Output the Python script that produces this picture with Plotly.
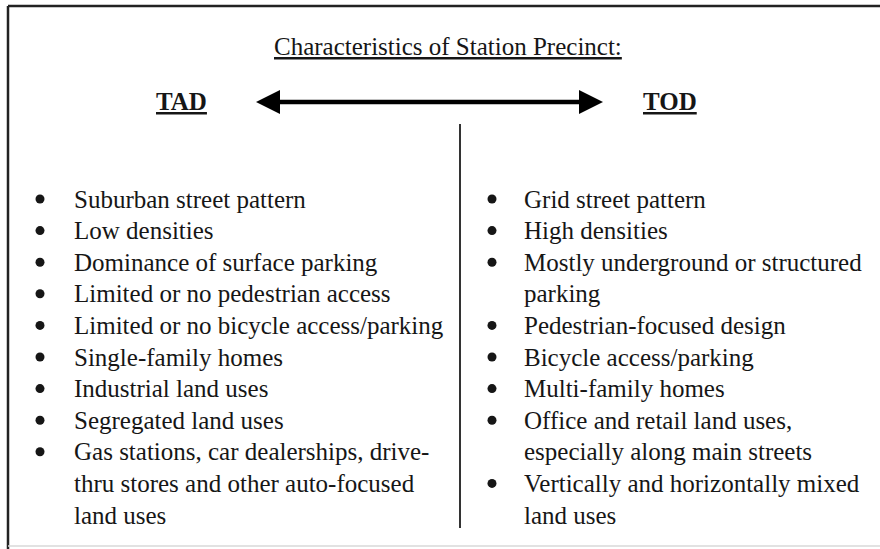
import plotly.graph_objects as go

title_text = "Characteristics of Station Precinct:"
left_heading = "TAD"
right_heading = "TOD"

tad_items = [
    ["Suburban street pattern"],
    ["Low densities"],
    ["Dominance of surface parking"],
    ["Limited or no pedestrian access"],
    ["Limited or no bicycle access/parking"],
    ["Single-family homes"],
    ["Industrial land uses"],
    ["Segregated land uses"],
    ["Gas stations, car dealerships, drive-", "thru stores and other auto-focused", "land uses"],
]

tod_items = [
    ["Grid street pattern"],
    ["High densities"],
    ["Mostly underground or structured", "parking"],
    ["Pedestrian-focused design"],
    ["Bicycle access/parking"],
    ["Multi-family homes"],
    ["Office and retail land uses,", "especially along main streets"],
    ["Vertically and horizontally mixed", "land uses"],
]

W, H = 880, 549
FONT = "Liberation Serif, Times New Roman, serif"
INK = "#161616"
LINE0 = 199
STEP = 31.6
FS = 25

fig = go.Figure()
annotations = []
shapes = []

def add_column(items, bullet_x, text_x):
    bx, by = [], []
    line = 0
    for item in items:
        bx.append(bullet_x)
        by.append(LINE0 + line * STEP)
        for txt in item:
            annotations.append(dict(
                x=text_x, y=LINE0 + line * STEP, text=txt, xref="x", yref="y",
                xanchor="left", yanchor="middle", showarrow=False,
                font=dict(family=FONT, size=FS, color=INK)))
            line += 1
    fig.add_trace(go.Scatter(x=bx, y=by, mode="markers",
                             marker=dict(size=9, color=INK, symbol="circle"),
                             hoverinfo="skip", showlegend=False))

add_column(tad_items, 40, 72)
add_column(tod_items, 492, 522)

annotations.append(dict(x=448, y=46, text="<u>" + title_text + "</u>", xref="x", yref="y",
                        xanchor="center", yanchor="middle", showarrow=False,
                        font=dict(family=FONT, size=FS, color=INK)))
annotations.append(dict(x=181, y=101, text="<b><u>" + left_heading + "</u></b>", xref="x", yref="y",
                        xanchor="center", yanchor="middle", showarrow=False,
                        font=dict(family=FONT, size=FS, color=INK)))
annotations.append(dict(x=670, y=101, text="<b><u>" + right_heading + "</u></b>", xref="x", yref="y",
                        xanchor="center", yanchor="middle", showarrow=False,
                        font=dict(family=FONT, size=FS, color=INK)))

# frame
shapes.append(dict(type="line", x0=8, x1=W, y0=6, y1=6, line=dict(color="#222", width=2.5)))
shapes.append(dict(type="line", x0=8, x1=8, y0=6, y1=H, line=dict(color="#222", width=2.5)))
shapes.append(dict(type="line", x0=8, x1=W, y0=546, y1=546, line=dict(color="#d8d8d8", width=1.5)))
# divider
shapes.append(dict(type="line", x0=460, x1=460, y0=124, y1=528, line=dict(color="#333", width=2)))
# double arrow
shapes.append(dict(type="line", x0=270, x1=590, y0=102, y1=102, line=dict(color="#000", width=4.5)))
shapes.append(dict(type="path", path="M 256 102 L 280 90 L 280 114 Z", fillcolor="#000", line=dict(width=0)))
shapes.append(dict(type="path", path="M 603 102 L 579 90 L 579 114 Z", fillcolor="#000", line=dict(width=0)))

fig.update_layout(
    width=W, height=H, margin=dict(l=0, r=0, t=0, b=0),
    paper_bgcolor="white", plot_bgcolor="white",
    xaxis=dict(range=[0, W], visible=False, fixedrange=True),
    yaxis=dict(range=[H, 0], visible=False, fixedrange=True),
    annotations=annotations, shapes=shapes, showlegend=False,
)

fig.write_html("out.html", config={"displayModeBar": False},
               post_script="document.body.style.margin='0';document.body.style.overflow='hidden';")
